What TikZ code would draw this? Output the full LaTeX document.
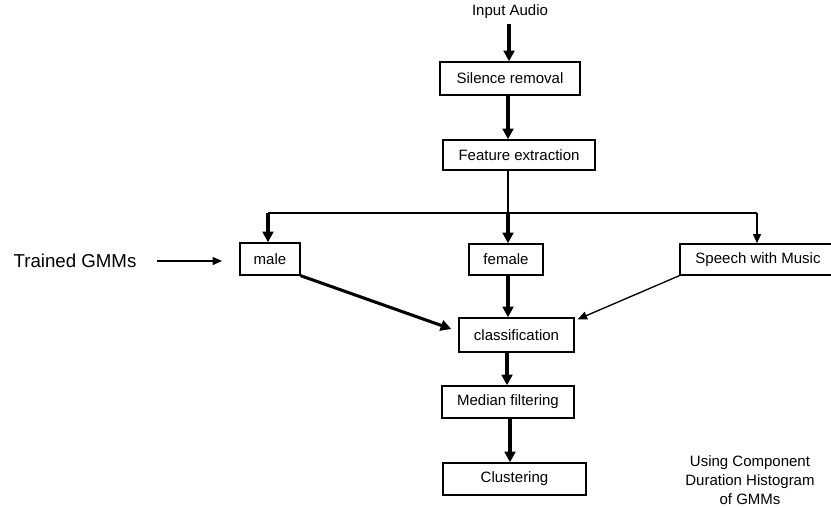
\documentclass[tikz,border=0pt]{standalone}
\usepackage{fontspec}
\setmainfont{Liberation Sans}
\usetikzlibrary{arrows.meta}
\usetikzlibrary{positioning}

\tikzset{
  box/.style={draw,line width=1pt,rectangle,inner sep=0pt,font=\fontsize{11.25}{13}\selectfont},
  heavy/.style={line width=2.3pt,-{Triangle[length=8pt,width=8pt]}},
  light/.style={line width=1pt,-{Triangle[length=7pt,width=6pt]}}
}

\begin{document}
\begin{tikzpicture}[x=0.75pt,y=-0.75pt]
\useasboundingbox (0,0) rectangle (831,507);
\node[font=\fontsize{11.25}{13}\selectfont] (input) at (510,12) {Input Audio};
\node[box,minimum width=105pt,minimum height=24.75pt] (silence) at (510,78.5) {Silence removal};
\node[box,minimum width=114pt,minimum height=22.5pt] (feature) at (519,155) {Feature extraction};
\node[box,minimum width=45pt,minimum height=24pt] (male) at (270,259) {male};
\node[box,minimum width=55.5pt,minimum height=23.25pt] (female) at (506,259.5) {female};
\node[box,minimum width=117pt,minimum height=23.25pt] (speech) at (758,259.5) {Speech with Music};
\node[box,minimum width=86.25pt,minimum height=25.5pt] (classif) at (516.5,335) {classification};
\node[box,minimum width=99pt,minimum height=24pt] (median) at (508,402) {Median filtering};
\node[box,minimum width=107.25pt,minimum height=24pt] (cluster) at (514.5,479) {Clustering};
\node[font=\fontsize{14}{16}\selectfont] (gmms) at (75,261) {Trained GMMs};
\node[font=\fontsize{11.25}{14.5}\selectfont,align=center,inner sep=0.5pt] (histo) at (750,480) {Using Component\\Duration Histogram\\of GMMs};

\coordinate (fork) at (508,213);
\coordinate (forkL) at (268,213);
\coordinate (forkR) at (757,213);

\draw[heavy] (input.south -| 509,0) -- (silence.north -| 509,0);
\draw[heavy] (silence.south -| 508,0) -- (feature.north -| 508,0);
\draw[line width=1pt] (feature.south -| fork) -- (fork);
\draw[line width=1pt] (forkL) -- (forkR);
\draw[heavy] (forkL) -- (forkL |- male.north);
\draw[heavy] (fork) -- (fork |- female.north);
\draw[light] (forkR) -- (forkR |- speech.north);
\draw[light] ([xshift=12pt]gmms.east) -- ([xshift=-13pt]male.west |- gmms.east);
\draw[heavy] (male.south east) -- ([shift={(-7,-6)}]classif.west);
\draw[heavy] (female.south -| fork) -- (classif.north -| fork);
\draw[light] (speech.south west) -- ([shift={(3,2)}]classif.north east);
\draw[heavy] (classif.south -| 507,0) -- (median.north -| 507,0);
\draw[heavy] (median.south -| 510,0) -- (cluster.north -| 510,0);
\end{tikzpicture}
\end{document}
